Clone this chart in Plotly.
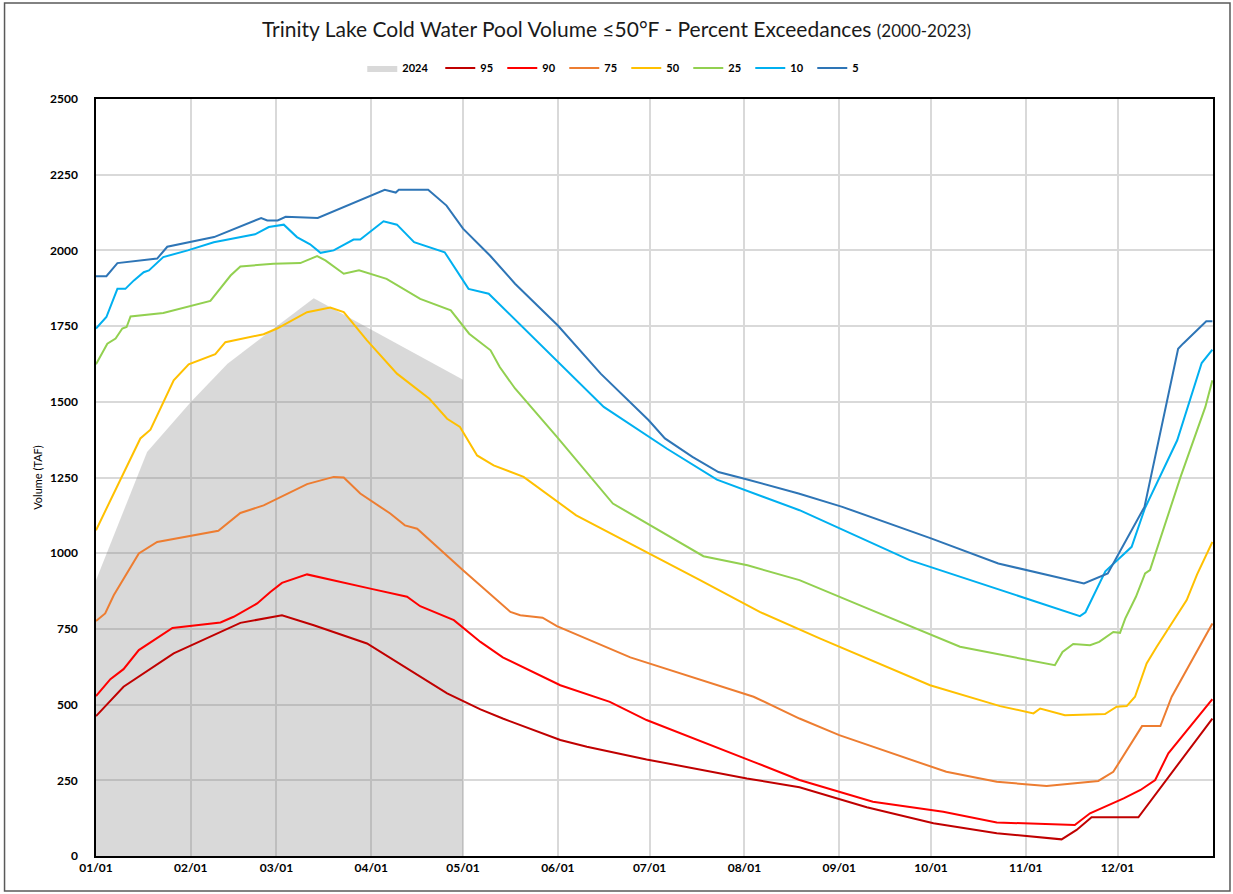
import pandas as pd
import plotly.graph_objects as go

# ---- data (x = days after 01/01, y = volume in TAF) ----
y2024_day = [0, 16.7, 31, 43, 71.2, 120]
y2024_taf = [911, 1334, 1499, 1626, 1842, 1573]

p95_day = [0, 9, 25.4, 40.7, 47.2, 60.8, 71.2, 88.6, 106, 114.8, 125.7, 133, 151.8, 160.5, 180, 212.8,
           230, 252, 273.8, 294.5, 315.7, 320.6, 325.5, 340.8, 365]
p95_taf = [462, 559, 669, 740, 770, 795, 762, 702, 592, 537, 484, 454, 383, 361, 319, 256,
           227, 161, 108, 75, 55, 86, 128, 128, 454]

p90_day = [0, 4.7, 9, 14, 25, 40.7, 45, 52.7, 57, 60.8, 69, 77.7, 89.7, 101.7, 106, 117, 125.7, 133,
           151.8, 168, 180, 215, 230, 254, 277, 294.5, 320, 325, 336, 341.5, 346.3, 350.6, 365]
p90_taf = [528, 584, 617, 680, 753, 771, 790, 834, 872, 902, 930, 911, 883, 856, 825, 779, 707, 656,
           564, 509, 449, 311, 251, 179, 146, 111, 102, 141, 190, 218, 251, 339, 518]

p75_day = [0, 3, 5.8, 14, 20, 29.8, 40, 47.2, 54.8, 69, 77.7, 81, 86.4, 96.2, 101, 105, 112.6, 120,
           135.5, 138.7, 146, 150.7, 174.7, 181, 215, 230, 243, 278, 294.5, 310.8, 327.7, 332.6,
           342, 348, 351.7, 365]
p75_taf = [776, 801, 861, 999, 1037, 1054, 1074, 1133, 1158, 1228, 1252, 1250, 1197, 1131, 1092, 1081,
           1010, 944, 806, 795, 787, 759, 656, 636, 526, 454, 399, 278, 245, 231, 248, 278,
           429, 429, 526, 768]

p50_day = [0, 14.5, 17.8, 25.4, 30.3, 39, 42.3, 54.8, 59.2, 69, 76.6, 81, 88.6, 98.4, 109, 114.8, 119,
           124.6, 130, 139.8, 157, 180, 197.5, 217, 236.8, 272.7, 295.6, 306.5, 308.7, 316.8, 329.9,
           333.7, 337, 339.7, 343.5, 346.8, 356.6, 360, 365]
p50_taf = [1076, 1379, 1408, 1571, 1624, 1657, 1697, 1723, 1742, 1796, 1811, 1796, 1703, 1593, 1510,
           1444, 1417, 1323, 1290, 1252, 1125, 1004, 911, 806, 718, 564, 495, 471, 487, 465, 469,
           493, 495, 526, 636, 691, 845, 930, 1037]

p25_day = [0, 3.7, 6.4, 8.6, 10, 11.3, 22, 37.4, 44, 47.2, 58, 66.8, 72.3, 75, 81, 86, 95, 106, 116,
           122, 129, 132, 137, 150.7, 169, 198.6, 213, 230, 251, 282.5, 313.5, 316, 319.5, 325, 328,
           332.6, 334.8, 336.5, 340, 343, 344.6, 354.6, 362.7, 365]
p25_taf = [1624, 1692, 1709, 1742, 1747, 1782, 1793, 1833, 1917, 1947, 1956, 1958, 1981, 1967, 1923,
           1934, 1906, 1840, 1802, 1725, 1670, 1615, 1544, 1384, 1164, 990, 960, 911, 823, 691, 630,
           674, 700, 696, 707, 740, 737, 784, 856, 933, 944, 1252, 1483, 1571]

p10_day = [0, 1.5, 3.4, 7, 9.6, 12.4, 15.6, 17.3, 22, 30, 38.5, 52, 56.5, 61.4, 65.7, 70, 73.4, 77.7,
           84.2, 86.4, 94, 98.4, 104, 114, 121.8, 128.4, 166, 186.7, 203, 230, 266, 321.7, 323.5,
           330, 338.6, 343, 353.5, 361.5, 365]
p10_taf = [1742, 1758, 1780, 1873, 1873, 1901, 1928, 1934, 1978, 2000, 2027, 2053, 2077, 2085, 2044,
           2020, 1992, 2000, 2036, 2036, 2096, 2085, 2027, 1994, 1873, 1857, 1483, 1345, 1243, 1142,
           977, 792, 805, 940, 1021, 1150, 1373, 1628, 1672]

p5_day = [0, 3.4, 7, 20, 23.3, 38.6, 54, 56, 59.4, 62, 72.5, 94.4, 98, 99, 108.6, 114.6, 120, 128.8,
          137, 151, 165, 180.7, 186, 195, 203.5, 212, 229.7, 244, 273, 295, 323, 330.8, 342.8,
          353.8, 355.4, 363, 365]
p5_taf = [1915, 1915, 1958, 1973, 2012, 2044, 2107, 2099, 2099, 2111, 2107, 2200, 2191, 2200, 2200,
          2148, 2072, 1983, 1890, 1752, 1593, 1439, 1379, 1318, 1268, 1246, 1197, 1153, 1049, 966,
          900, 933, 1153, 1675, 1692, 1766, 1766]

series_names = ["95", "90", "75", "50", "25", "10", "5"]
series_colors = ["#C00000", "#FF0000", "#ED7D31", "#FFC000", "#92D050", "#00B0F0", "#2E75B6"]
series_days = [p95_day, p90_day, p75_day, p50_day, p25_day, p10_day, p5_day]
series_vals = [p95_taf, p90_taf, p75_taf, p50_taf, p25_taf, p10_taf, p5_taf]

y_ticks = [0, 250, 500, 750, 1000, 1250, 1500, 1750, 2000, 2250, 2500]
month_ticks = ["2023-%02d-01" % m for m in range(1, 13)]
month_labels = ["%02d/01" % m for m in range(1, 13)]

START = pd.Timestamp("2023-01-01")


def to_dates(days):
    return [START + pd.Timedelta(days=d) for d in days]


FONT = "Lato"

fig = go.Figure()
fig.add_trace(go.Scatter(
    x=to_dates(y2024_day), y=y2024_taf, name="2024", mode="lines",
    line=dict(width=0, color="rgba(128,128,128,0.3)"),
    fill="tozeroy", fillcolor="rgba(128,128,128,0.3)", legendwidth=33))

for nm, col, d, v in zip(series_names, series_colors, series_days, series_vals):
    fig.add_trace(go.Scatter(x=to_dates(d), y=v, name=nm, mode="lines",
                             line=dict(color=col, width=2), legendwidth=17))

W, H = 1233, 894
L, R, T, B = 95.5, 20, 99, 38
pw, ph = W - L - R, H - T - B


def px_x(p):
    return (p - L) / pw


def px_y(p):
    return (H - B - p) / ph


fig.update_layout(
    width=W, height=H,
    margin=dict(l=L, r=R, t=T, b=B, pad=0),
    paper_bgcolor="white", plot_bgcolor="white",
    font=dict(family=FONT, color="#000000"),
    title=dict(
        text="Trinity Lake Cold Water Pool Volume ≤50°F - Percent Exceedances <span style='font-size:17px'>(2000-2023)</span>",
        x=0.5, xref="container", xanchor="center",
        y=1 - 30 / H, yref="container", yanchor="middle",
        font=dict(size=21, family=FONT, color="#1a1a1a")),
    legend=dict(orientation="h", x=px_x(618), xanchor="center",
                y=px_y(68), yanchor="middle",
                font=dict(size=11, family=FONT, color="#000", weight="bold"),
                bgcolor="rgba(0,0,0,0)", itemwidth=30, traceorder="normal"),
    showlegend=True,
    shapes=[dict(type="rect", xref="paper", yref="paper",
                 x0=px_x(4), x1=px_x(1230), y0=px_y(891), y1=px_y(3),
                 line=dict(color="#595959", width=1.5), layer="below")],
)

fig.update_xaxes(
    type="date", range=[START, START + pd.Timedelta(days=365.2)],
    tickvals=month_ticks, ticktext=month_labels,
    showgrid=True, gridcolor="#D9D9D9", gridwidth=1.5,
    showline=True, linecolor="#000000", linewidth=1.5, mirror=True,
    ticks="", tickfont=dict(size=12, family=FONT, color="#000", weight="bold"),
    zeroline=False)

fig.update_yaxes(
    range=[0, 2500], tickvals=y_ticks, ticktext=[str(t) for t in y_ticks],
    showgrid=True, gridcolor="#D9D9D9", gridwidth=1.5,
    showline=True, linecolor="#000000", linewidth=1.5, mirror=True,
    ticks="outside", ticklen=14, tickcolor="rgba(0,0,0,0)",
    tickfont=dict(size=12, family=FONT, color="#000", weight="bold"),
    title=dict(text="Volume (TAF)", font=dict(size=11, family=FONT, color="#000"), standoff=5),
    zeroline=False)

fig.write_html("out.html", config={"displayModeBar": False},
               post_script="document.body.style.margin='0px';document.body.style.overflow='hidden';")
